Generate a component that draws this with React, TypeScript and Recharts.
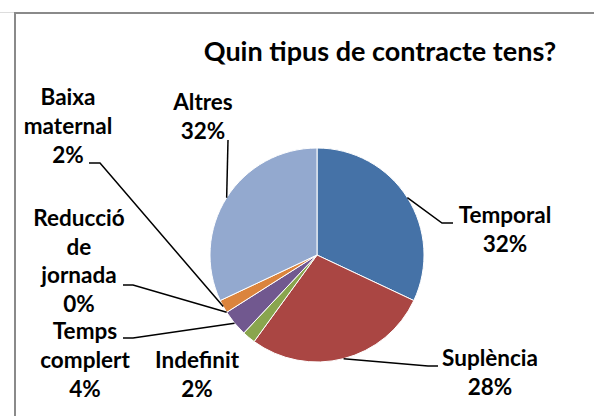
import { PieChart, Pie, Cell } from 'recharts';

const categories = ['Temporal', 'Suplència', 'Indefinit', 'Temps complert', 'Reducció de jornada', 'Baixa maternal', 'Altres'];
const percents = [32, 28, 2, 4, 0, 2, 32];
const labelRows = [['Temporal'], ['Suplència'], ['Indefinit'], ['Temps', 'complert'], ['Reducció', 'de', 'jornada'], ['Baixa', 'maternal'], ['Altres']];

const COLORS = ['#4572A7', '#AA4643', '#89A54E', '#71588F', '#4198AF', '#DB843D', '#93A9CF'];

// label placement: text centre x, first baseline y, line gap, leader line points (label end -> elbow)
const LABEL_POS: { x: number; y: number; gap: number; line: number[][] }[] = [
  { x: 505, y: 223, gap: 29, line: [[453, 223], [442, 223]] },
  { x: 490, y: 366, gap: 29, line: [[438, 366], [428, 366]] },
  { x: 197, y: 368, gap: 29, line: [] },
  { x: 85, y: 339, gap: 29, line: [[123, 338], [133, 338]] },
  { x: 79, y: 226, gap: 28.5, line: [[123, 285], [133, 285]] },
  { x: 68, y: 105, gap: 29, line: [[89, 163], [100, 163]] },
  { x: 203, y: 110, gap: 29, line: [[228, 140]] },
];

const data = categories.map((name, i) => ({ name, value: percents[i] }));

const FONT = 'Lato, "Open Sans", sans-serif';
const RADIAN = Math.PI / 180;

function renderLabel(props: any) {
  const { cx, cy, midAngle, outerRadius, index, value } = props;
  const pos = LABEL_POS[index];
  const ax = cx + outerRadius * Math.cos(-midAngle * RADIAN);
  const ay = cy + outerRadius * Math.sin(-midAngle * RADIAN);
  const rows = [...labelRows[index], `${value}%`];
  const pts = pos.line.length ? [...pos.line, [ax, ay]] : [];
  return (
    <g key={`lbl-${index}`}>
      {pts.length > 0 && (
        <polyline points={pts.map((p) => p.join(',')).join(' ')} fill="none" stroke="#000" strokeWidth={1.5} />
      )}
      <text x={pos.x} y={pos.y} textAnchor="middle" fontFamily={FONT} fontWeight="bold" fontSize={22.5} fill="#000">
        {rows.map((r, i) => (
          <tspan key={i} x={pos.x} y={pos.y + i * pos.gap}>
            {r}
          </tspan>
        ))}
      </text>
    </g>
  );
}

export default function App() {
  return (
    <div style={{ position: 'absolute', left: 0, top: 0, width: 594, height: 416, overflow: 'hidden', background: '#fff' }}>
      <div style={{ position: 'absolute', left: 0, top: 12, width: 14, height: 1, background: '#ddd' }} />
      <div style={{ position: 'absolute', left: 14, top: 12, width: 700, height: 500, border: '2px solid #8a8a8a' }} />
      <div style={{ position: 'absolute', left: 0, top: 0 }}>
        <PieChart width={594} height={416} margin={{ top: 0, right: 0, bottom: 0, left: 0 }}>
          <text x={380} y={61} textAnchor="middle" fontFamily={FONT} fontWeight="bold" fontSize={27} fill="#000">
            Quin tipus de contracte tens?
          </text>
          <Pie
            data={data}
            dataKey="value"
            nameKey="name"
            cx={317}
            cy={255}
            outerRadius={107}
            startAngle={90}
            endAngle={-270}
            stroke="#fff"
            strokeWidth={1}
            label={renderLabel}
            labelLine={false}
            isAnimationActive={false}
          >
            {data.map((entry, index) => (
              <Cell key={`cell-${index}`} fill={COLORS[index]} />
            ))}
          </Pie>
        </PieChart>
      </div>
    </div>
  );
}
